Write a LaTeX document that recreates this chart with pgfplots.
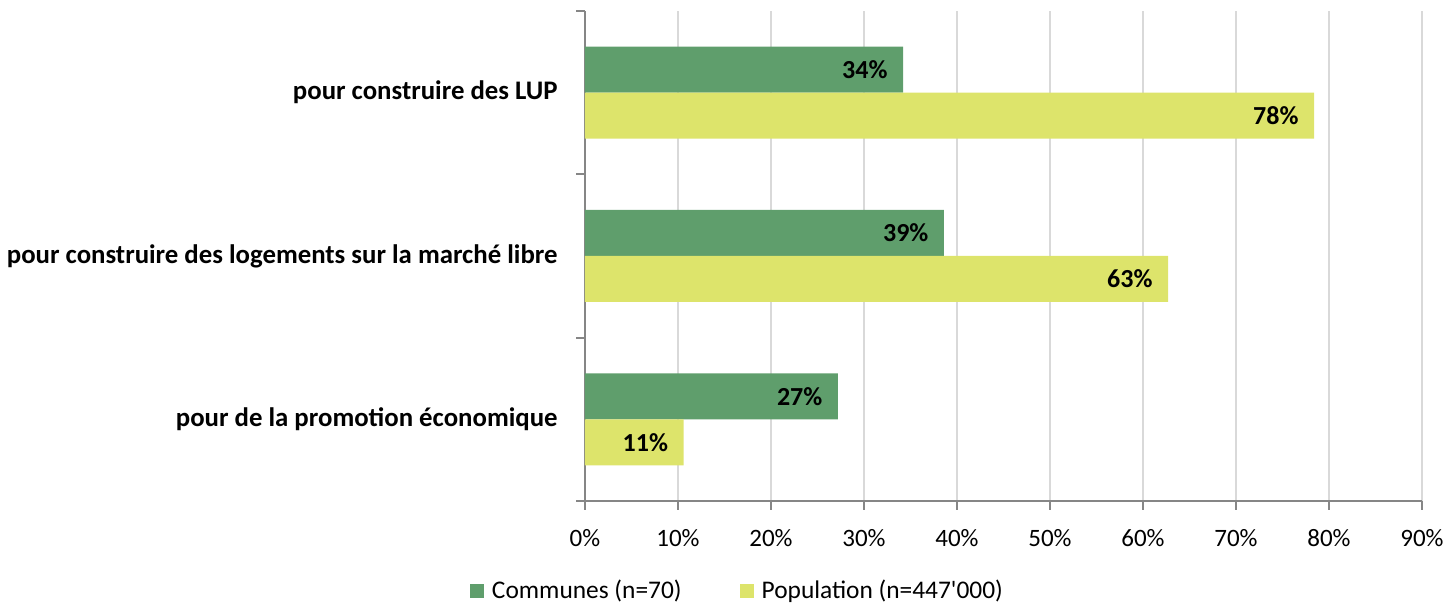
\documentclass[border=0pt]{standalone}
\usepackage{fontspec}
\setmainfont{Carlito}
\usepackage{pgfplots}
\usepackage{pgfplotstable}
\pgfplotsset{compat=1.18}
\pgfkeys{/pgf/number format/assume math mode=true}
\definecolor{cgreen}{RGB}{95,158,108}
\definecolor{cyellow}{RGB}{221,228,107}
\definecolor{gridgray}{RGB}{217,217,217}
\definecolor{axisgray}{RGB}{134,134,134}
\pgfplotstableread{
y comm pop
2 34.2 78.4
1 38.6 62.7
0 27.2 10.6
}\data
\begin{document}
\begin{tikzpicture}[font=\fontsize{12.5}{14}\selectfont]
\useasboundingbox (-292.5pt,-51pt) rectangle (432pt,250.5pt);
\begin{axis}[
  at={(0,0)}, anchor=south west,
  scale only axis, width=418.5pt, height=245pt,
  xbar, bar width=23pt,
  xmin=0, xmax=90, ymin=-0.5, ymax=2.5,
  axis lines=left,
  axis line style={-, draw=axisgray, line width=0.9pt},
  tick style={draw=axisgray, line width=0.9pt},
  tick align=outside, major tick length=4.3pt,
  xtick={0,10,...,90},
  xticklabel={\pgfmathprintnumber{\tick}\%},
  xticklabel style={yshift=-6.5pt, font=\fontsize{12.5}{14}\selectfont},
  xmajorgrids, grid style={draw=gridgray, line width=0.6pt},
  ytick={-0.5,0.5,1.5,2.5}, yticklabels={},
  extra y ticks={0,1,2},
  extra y tick labels={pour de la promotion économique, pour construire des logements sur la marché libre, pour construire des LUP},
  extra y tick style={major tick length=0pt, yticklabel style={font=\fontsize{13.4}{15}\selectfont\bfseries, anchor=east, inner sep=0pt, xshift=-13.5pt}},
  point meta=x,
  nodes near coords={\llap{\pgfmathprintnumber[fixed,precision=0]{\pgfplotspointmeta}\%\hspace{8.5pt}}},
  every node near coord/.append style={inner sep=0pt, font=\fontsize{13}{15}\selectfont\bfseries, text=black},
  legend style={draw=none, at={(0.1834,-0.1837)}, anchor=center, legend columns=2,
    /tikz/every odd column/.append style={column sep=2pt},
    /tikz/every even column/.append style={column sep=27pt},
    font=\fontsize{12.7}{14}\selectfont},
  legend image code/.code={\fill[#1] (0pt,-3.5pt) rectangle (7pt,3.5pt);},
]
\addplot[fill=cgreen, draw=none, bar shift=11.5pt] table[x=comm,y=y]{\data};
\addplot[fill=cyellow, draw=none, bar shift=-11.5pt] table[x=pop,y=y]{\data};
\legend{Communes (n=70), Population (n=447\textquotesingle 000)}
\end{axis}
\end{tikzpicture}
\end{document}
